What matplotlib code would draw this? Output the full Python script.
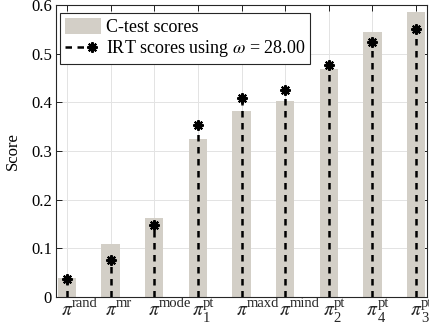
import matplotlib.pyplot as plt
import numpy as np
from matplotlib.legend_handler import HandlerBase
from matplotlib.lines import Line2D

plt.rcParams["font.family"] = ["Liberation Serif", "DejaVu Serif"]
plt.rcParams["mathtext.fontset"] = "stix"

# policy labels: superscript / subscript parts of each pi
policy_sup = ["rand", "mr", "mode", "pt", "maxd", "mind", "pt", "pt", "pt"]
policy_sub = ["", "", "", "1", "", "", "2", "4", "3"]
ctest_scores = [0.039, 0.108, 0.162, 0.325, 0.383, 0.403, 0.469, 0.544, 0.585]
irt_scores = [0.038, 0.077, 0.147, 0.354, 0.408, 0.426, 0.477, 0.524, 0.550]
omega = 28.00

DASH = (0, (2.6, 2.2))
STAR = (8, 2, 0)


class StemHandler(HandlerBase):
    """Dashed line with the asterisk drawn at its right end."""

    def create_artists(self, legend, orig_handle, xdescent, ydescent,
                       width, height, fontsize, trans):
        y = height / 2 - ydescent
        line = Line2D([-xdescent, width - xdescent - 6], [y, y], color="black",
                      linestyle=DASH, linewidth=1.8)
        mark = Line2D([width - xdescent - 6], [y], color="black", linestyle="none",
                      marker=STAR, markersize=7.5, markeredgewidth=1.5)
        line.set_transform(trans)
        mark.set_transform(trans)
        return [line, mark]


def main() -> None:
    x = np.arange(1, len(policy_sup) + 1)

    fig = plt.figure(figsize=(4.29, 3.24), dpi=100)
    ax = fig.add_axes([56 / 429, 27 / 324, 371 / 429, 292 / 324])

    bars = ax.bar(x, ctest_scores, width=0.42, color="#d3cfc7", zorder=2)
    ax.vlines(x, 0, irt_scores, colors="black", linestyles=DASH, linewidth=1.8, zorder=3)
    ax.plot(x, irt_scores, linestyle="none", marker=STAR, markersize=7.5,
            markeredgewidth=1.5, color="black", zorder=4)
    stem_proxy = Line2D([], [], color="black")

    ax.set_xlim(0.75, 9.25)
    ax.set_ylim(0, 0.6)
    ax.set_xticks(x)
    ax.set_xticklabels([])
    ax.set_yticks(np.arange(0, 0.61, 0.1))
    ax.set_yticklabels(["0", "0.1", "0.2", "0.3", "0.4", "0.5", "0.6"], fontsize=12)
    ax.set_ylabel("Score", fontsize=12, labelpad=7)
    ax.tick_params(direction="in", top=True, right=True, length=4, width=0.6, pad=3)
    ax.grid(True, color="#e3e3e3", linewidth=0.7, zorder=0)
    ax.set_axisbelow(True)
    for spine in ax.spines.values():
        spine.set_linewidth(0.8)
        spine.set_color("#262626")

    # x tick labels built from pi + upright super/subscripts
    for xi, sup, sub in zip(x, policy_sup, policy_sub):
        ax.annotate(r"$\pi$", xy=(xi, 0), xycoords=("data", "axes fraction"),
                    xytext=(-6, -18), textcoords="offset pixels",
                    ha="left", va="baseline", fontsize=14, color="#262626")
        ax.annotate(sup, xy=(xi, 0), xycoords=("data", "axes fraction"),
                    xytext=(5, -10), textcoords="offset pixels",
                    ha="left", va="baseline", fontsize=10.5, color="#262626")
        if sub:
            ax.annotate(sub, xy=(xi, 0), xycoords=("data", "axes fraction"),
                        xytext=(5, -25), textcoords="offset pixels",
                        ha="left", va="baseline", fontsize=10.5, color="#262626")

    leg = ax.legend([bars, stem_proxy],
                    ["C-test scores", rf"IRT scores using $\omega$ = {omega:.2f}"],
                    handler_map={stem_proxy: StemHandler()},
                    loc="upper left", bbox_to_anchor=(4 / 371, 1 - 8 / 292),
                    fontsize=13, frameon=True, fancybox=False,
                    edgecolor="#262626", borderaxespad=0, handlelength=2.0,
                    handleheight=1.0, borderpad=0.25, labelspacing=0.15,
                    handletextpad=0.3, framealpha=1)
    leg.get_frame().set_linewidth(0.8)

    fig.savefig("out.png", dpi=100, facecolor="white")
    plt.close(fig)


if __name__ == "__main__":
    main()
